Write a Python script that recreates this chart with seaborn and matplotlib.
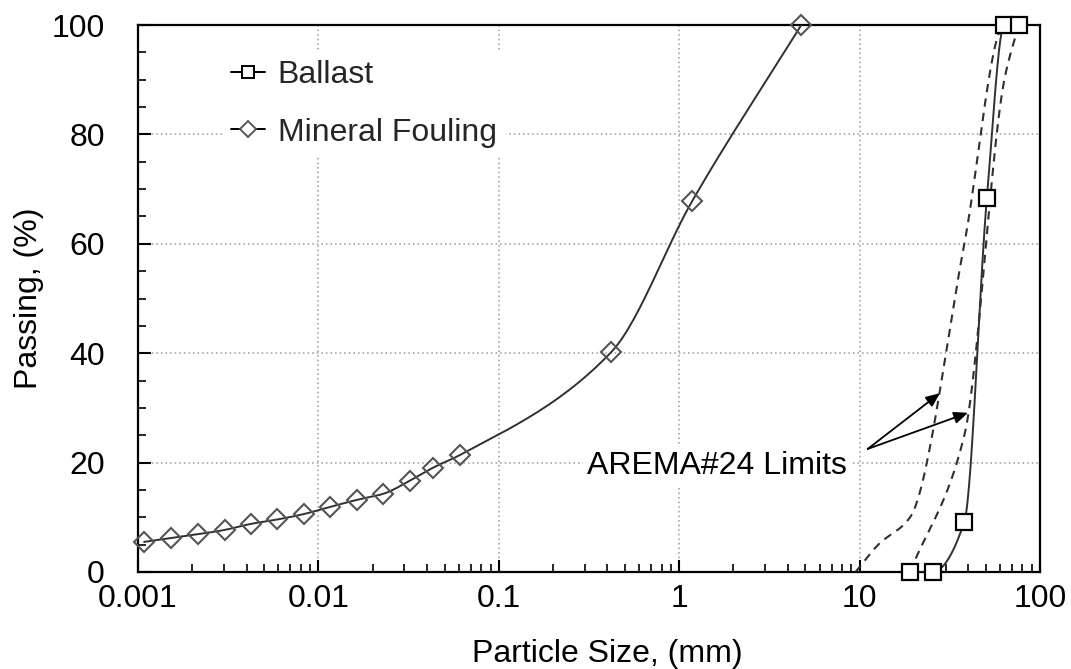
import numpy as np
import matplotlib
matplotlib.use("Agg")
import matplotlib.pyplot as plt
import seaborn as sns
from matplotlib.lines import Line2D
from matplotlib.ticker import LogLocator, MultipleLocator, FixedLocator, NullFormatter

# -------------------------------
# Data
# -------------------------------
ballast_size = [19.05, 25.4, 38.1, 50.8, 63.5, 76.2]
ballast_pass = [0, 0, 9.2, 68.4, 100, 100]

fouling_size = [0.00108, 0.00152, 0.00215, 0.00303, 0.00423, 0.00592, 0.00832,
                0.0116, 0.0164, 0.0229, 0.0322, 0.0434, 0.061, 0.42, 1.18, 4.75]
fouling_pass = [5.5, 6.2, 6.9, 7.7, 8.8, 9.6, 10.6,
                11.9, 13.2, 14.3, 16.7, 19.1, 21.4, 40.2, 67.8, 100]

upper_size = [9.5, 12.7, 19.05, 38.1, 63.5, 76.2]
upper_pass = [0, 5, 10, 60, 100, 100]
lower_size = [19.05, 38.1, 63.5, 76.2]
lower_pass = [0, 25, 90, 100]

x_ticks = [0.001, 0.01, 0.1, 1, 10, 100]
x_labels = ["0.001", "0.01", "0.1", "1", "10", "100"]
y_ticks = [0, 20, 40, 60, 80, 100]


def smooth(xs, ys, steps=30):
    # smooth line through the points (monotone cubic in log-x space)
    lx = np.log10(np.asarray(xs, float))
    y = np.asarray(ys, float)
    h = np.diff(lx)
    d = np.diff(y) / h
    m = np.zeros_like(y)
    m[0], m[-1] = d[0], d[-1]
    for i in range(1, len(y) - 1):
        if d[i - 1] * d[i] > 0:
            w1 = 2 * h[i] + h[i - 1]
            w2 = h[i] + 2 * h[i - 1]
            m[i] = (w1 + w2) / (w1 / d[i - 1] + w2 / d[i])
    px, py = [], []
    for i in range(len(h)):
        t = np.linspace(0, 1, steps)
        if i > 0:
            t = t[1:]
        h00 = 2 * t**3 - 3 * t**2 + 1
        h10 = t**3 - 2 * t**2 + t
        h01 = -2 * t**3 + 3 * t**2
        h11 = t**3 - t**2
        px.append(lx[i] + t * h[i])
        py.append(h00 * y[i] + h10 * h[i] * m[i] + h01 * y[i + 1] + h11 * h[i] * m[i + 1])
    return 10 ** np.concatenate(px), np.concatenate(py)


sns.set_theme(style="white")
plt.rcParams["font.family"] = ["Liberation Sans", "DejaVu Sans"]
fs = 23

fig = plt.figure(figsize=(10.71, 6.69), dpi=100)
ax = fig.add_axes([0.1289, 0.145, 0.971 - 0.1289, 0.9626 - 0.145])
ax.set_xscale("log")

line_col = "#303030"

# AREMA limit curves (dashed)
for sx, sy in [(upper_size, upper_pass), (lower_size, lower_pass)]:
    cx, cy = smooth(sx, sy)
    sns.lineplot(x=cx, y=cy, ax=ax, sort=False, color=line_col, lw=1.5,
                 linestyle=(0, (4, 3)), zorder=3)

# Ballast
cx, cy = smooth(ballast_size, ballast_pass)
sns.lineplot(x=cx, y=cy, ax=ax, sort=False, color=line_col, lw=1.4, zorder=4)
ax.plot(ballast_size, ballast_pass, ls="none", marker="s", ms=11, mfc="white",
        mec="black", mew=1.6, zorder=5, clip_on=False)

# Mineral fouling
cx, cy = smooth(fouling_size, fouling_pass)
sns.lineplot(x=cx, y=cy, ax=ax, sort=False, color=line_col, lw=1.4, zorder=4)
ax.plot(fouling_size, fouling_pass, ls="none", marker="D", ms=10, mfc="none",
        mec="#555555", mew=1.5, zorder=5, clip_on=False)

ax.set_xlim(0.001, 100)
ax.set_ylim(0, 100)

ax.xaxis.set_major_locator(FixedLocator(x_ticks))
ax.set_xticklabels(x_labels)
ax.xaxis.set_minor_locator(LogLocator(base=10, subs=np.arange(2, 10)))
ax.xaxis.set_minor_formatter(NullFormatter())
ax.set_yticks(y_ticks)
ax.yaxis.set_minor_locator(MultipleLocator(5))

ax.tick_params(axis="both", which="both", direction="in", labelsize=fs,
               colors="black", top=False, right=False, bottom=True, left=True)
ax.tick_params(axis="both", which="major", length=9, width=1.5)
ax.tick_params(axis="both", which="minor", length=6, width=1.2)
ax.tick_params(axis="x", pad=9)
ax.tick_params(axis="y", pad=24)

ax.grid(True, which="major", color="#9a9a9a", linestyle=(0, (1, 2)), lw=1.1)
for s in ax.spines.values():
    s.set_color("black")
    s.set_linewidth(1.6)

ax.set_xlabel("Particle Size, (mm)", fontsize=fs, color="black")
ax.set_ylabel("Passing, (%)", fontsize=fs, color="black")
ax.xaxis.set_label_coords(0.52, -0.122)
ax.yaxis.set_label_coords(-0.104, 0.5)

# annotation with arrows
txt_xy = (1.62, 19.4)
for tip in [(27.9, 32.7), (39.9, 29.1)]:
    ax.annotate("", xy=tip, xytext=(11.1, 22.5),
                arrowprops=dict(arrowstyle="-|>,head_length=0.7,head_width=0.3",
                                color="black", lw=1.3, shrinkA=0, shrinkB=0),
                zorder=6)
ax.text(*txt_xy, "AREMA#24 Limits", fontsize=fs, ha="center", va="center",
        color="black", zorder=6,
        bbox=dict(facecolor="white", edgecolor="none", pad=3))

handles = [
    Line2D([], [], color="black", lw=1.4, marker="s", ms=9, mfc="white", mec="black", mew=1.4),
    Line2D([], [], color="black", lw=1.4, marker="D", ms=8, mfc="white", mec="#555555", mew=1.4),
]
leg = ax.legend(handles, ["Ballast", "Mineral Fouling"], loc="upper left",
                bbox_to_anchor=(0.075, 0.982), fontsize=fs, frameon=True,
                facecolor="white", edgecolor="none", framealpha=1,
                handlelength=1.05, handletextpad=0.4, labelspacing=0.85,
                borderpad=0.3, fancybox=False)
leg.set_zorder(7)

fig.savefig("out.png", dpi=100, facecolor="white")
